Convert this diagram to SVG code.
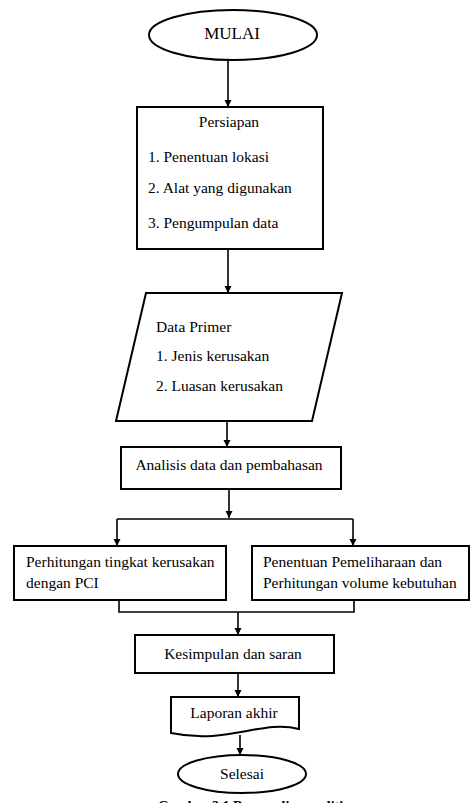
<svg xmlns="http://www.w3.org/2000/svg" width="470" height="803" viewBox="0 0 470 803">
<defs>
<marker id="ah" markerWidth="8" markerHeight="8" refX="7" refY="4" orient="auto" markerUnits="userSpaceOnUse">
<path d="M0,0.5 L7,4 L0,7.5 z" fill="#000"/>
</marker>
<style>
.s{fill:#fff;stroke:#000;stroke-width:2}
.t{font-family:"Liberation Serif","Times New Roman",serif;font-size:15.5px;fill:#000}
.c{text-anchor:middle}
.ln{fill:none;stroke:#000;stroke-width:1.6}
.ar{fill:none;stroke:#000;stroke-width:1.6;marker-end:url(#ah)}
</style>
</defs>
<rect width="470" height="803" fill="#fff"/>
<g id="connectors">
<path class="ar" d="M228,60 V107"/>
<path class="ar" d="M228,249 V293"/>
<path class="ar" d="M227,421 V447"/>
<path class="ar" d="M229,489 V518"/>
<path class="ln" d="M117,519 H353"/>
<path class="ar" d="M117,519 V546"/>
<path class="ar" d="M353,519 V546"/>
<path class="ln" d="M119,600 V612 H354 V600"/>
<path class="ar" d="M238,612 V635"/>
<path class="ar" d="M238,673 V697"/>
<path class="ar" d="M240,735 V755"/>
</g>
<g id="mulai">
<ellipse class="s" cx="233" cy="35" rx="84" ry="25"/>
<text class="t c" x="232" y="39" style="font-size:17px">MULAI</text>
</g>
<g id="persiapan">
<rect class="s" x="137" y="107" width="186" height="142"/>
<text class="t c" x="229" y="127">Persiapan</text>
<text class="t" x="148" y="162">1. Penentuan lokasi</text>
<text class="t" x="148" y="193">2. Alat yang digunakan</text>
<text class="t" x="148" y="228">3. Pengumpulan data</text>
</g>
<g id="data-primer">
<polygon class="s" points="146,293 342,293 312,421 116,421"/>
<text class="t" x="156" y="332">Data Primer</text>
<text class="t" x="156" y="361">1. Jenis kerusakan</text>
<text class="t" x="156" y="391">2. Luasan kerusakan</text>
</g>
<g id="analisis">
<rect class="s" x="121" y="447" width="220" height="42"/>
<text class="t c" x="229" y="470">Analisis data dan pembahasan</text>
</g>
<g id="pci">
<rect class="s" x="14" y="546" width="212" height="54"/>
<text class="t" x="26" y="567">Perhitungan tingkat kerusakan</text>
<text class="t" x="26" y="588">dengan PCI</text>
</g>
<g id="pemeliharaan">
<rect class="s" x="252" y="546" width="217" height="54"/>
<text class="t" x="263" y="567">Penentuan Pemeliharaan dan</text>
<text class="t" x="263" y="588">Perhitungan volume kebutuhan</text>
</g>
<g id="kesimpulan">
<rect class="s" x="135" y="635" width="199" height="38"/>
<text class="t c" x="233" y="659">Kesimpulan dan saran</text>
</g>
<g id="laporan">
<path class="s" d="M171,697 H299 V729 C262,719 228,745 171,733 Z"/>
<text class="t c" x="234" y="718">Laporan akhir</text>
</g>
<g id="selesai">
<ellipse class="s" cx="242" cy="774" rx="64" ry="19"/>
<text class="t c" x="242" y="779">Selesai</text>
</g>
<text class="t c" x="258" y="811" style="font-size:14px;font-weight:bold">Gambar 3.1 Bagan alir penelitian</text>
</svg>
